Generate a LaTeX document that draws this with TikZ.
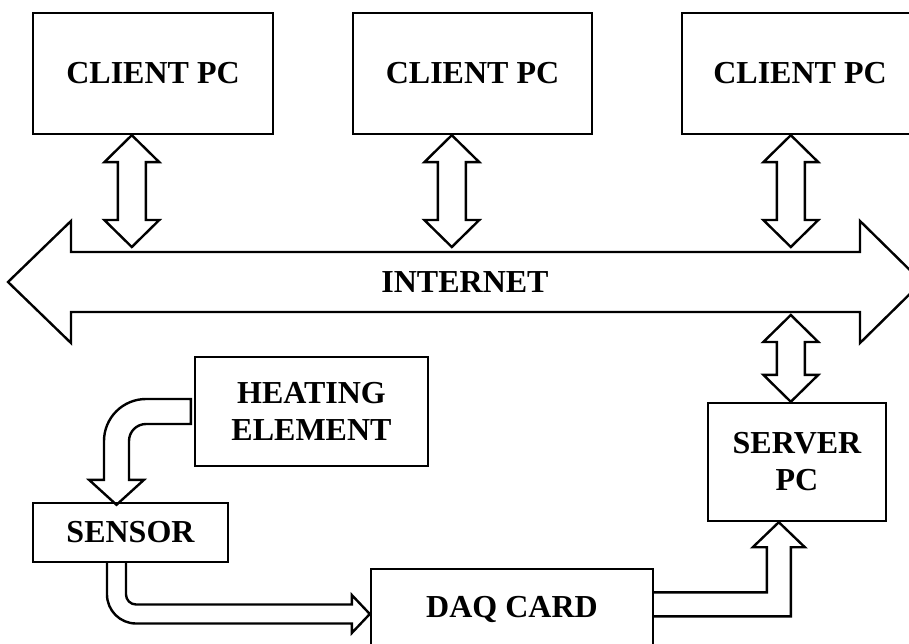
\documentclass[tikz,border=0pt]{standalone}
\usepackage{fontspec}
\setmainfont{Liberation Serif}
\usetikzlibrary{calc}

% vertical two-headed block arrow between an upper tip #1 and a lower tip #2
\newcommand\twowayarrow[2]{%
  \draw[blk] (#1) -- ++(27.5,27) -- ++(-13.5,0) -- ($(#2)+(14,-27)$)
    -- ++(13.5,0) -- (#2) -- ++(-27.5,-27) -- ++(13.5,0)
    -- ($(#1)+(-14,27)$) -- ++(-13.5,0) -- cycle;}

\begin{document}
\begin{tikzpicture}[x=1pt,y=-1pt,
  box/.style={draw,line width=2.4pt,inner sep=0pt,align=center,
    font=\fontsize{32}{37}\selectfont\bfseries},
  blk/.style={draw,line width=2.4pt,line join=miter},
  lbl/.style={font=\fontsize{32}{37}\selectfont\bfseries}]
\useasboundingbox (0,0) rectangle (909,644);

% blocks
\node[box,minimum width=240pt,minimum height=121pt] (c1) at (153,73.5) {CLIENT PC};
\node[box,minimum width=239pt,minimum height=121pt] (c2) at (472.5,73.5) {CLIENT PC};
\node[box,minimum width=236pt,minimum height=121pt] (c3) at (800,73.5) {CLIENT PC};
\node[box,minimum width=233pt,minimum height=109pt] (heat) at (311.5,411.5) {HEATING\\ELEMENT};
\node[box,minimum width=195pt,minimum height=59pt] (sens) at (130.5,532.5) {SENSOR};
\node[box,minimum width=178pt,minimum height=118pt] (srv) at (797,462) {SERVER\\PC};
\node[box,minimum width=282pt,minimum height=81pt] (daq) at (512,609.5) {DAQ CARD};

% internet band
\coordinate (net) at (465,282);
\draw[blk] ($(net)+(-457,0)$) -- ($(net)+(-394,-61)$) -- ($(net)+(-394,-30)$)
  -- ($(net)+(395,-30)$) -- ($(net)+(395,-61)$) -- ($(net)+(457,0)$)
  -- ($(net)+(395,61)$) -- ($(net)+(395,30)$) -- ($(net)+(-394,30)$)
  -- ($(net)+(-394,61)$) -- cycle;
\node[lbl] (inet) at (net) {INTERNET};
\coordinate (netTop) at ($(net)+(0,-35)$);
\coordinate (netBot) at ($(net)+(0,33)$);

% clients and server to the internet
\coordinate (p1) at ($(c1.south west)+(100,0)$);
\coordinate (p2) at ($(c2.south west)+(100,0)$);
\coordinate (p3) at ($(c3.south west)+(110,0)$);
\coordinate (ps) at ($(srv.north west)+(84,0)$);
\twowayarrow{p1}{p1 |- netTop}
\twowayarrow{p2}{p2 |- netTop}
\twowayarrow{p3}{p3 |- netTop}
\twowayarrow{ps |- netBot}{ps}

% heating element to sensor
\coordinate (h0) at ($(heat.west)+(-3,0)$);
\coordinate (s0) at ($(sens.north)+(-14,3)$);
\coordinate (hc) at (h0 -| s0);
\draw[blk] ($(h0)+(0,-12.5)$) -- ($(hc)+(29.5,-12.5)$)
  .. controls ($(hc)+(6.3,-12.5)$) and ($(hc)+(-12.5,6.3)$) .. ($(hc)+(-12.5,29.5)$)
  -- ($(s0)+(-12.5,-25)$) -- ($(s0)+(-27.5,-25)$) -- (s0)
  -- ($(s0)+(27.5,-25)$) -- ($(s0)+(12.5,-25)$) -- ($(hc)+(12.5,29.5)$)
  .. controls ($(hc)+(12.5,20.1)$) and ($(hc)+(20.1,12.5)$) .. ($(hc)+(29.5,12.5)$)
  -- ($(h0)+(0,12.5)$) -- cycle;

% sensor to DAQ card
\coordinate (t0) at ($(sens.south)+(-14,0)$);
\coordinate (d0) at ($(daq.west)+(0,4.5)$);
\coordinate (sc) at (t0 |- d0);
\draw[blk] ($(t0)+(-9.5,0)$) -- ($(sc)+(-9.5,-19.5)$)
  .. controls ($(sc)+(-9.5,-3.5)$) and ($(sc)+(3.5,9.5)$) .. ($(sc)+(19.5,9.5)$)
  -- ($(d0)+(-18,9.5)$) -- ($(d0)+(-18,19)$) -- (d0)
  -- ($(d0)+(-18,-19)$) -- ($(d0)+(-18,-9.5)$) -- ($(sc)+(19.5,-9.5)$)
  .. controls ($(sc)+(14,-9.5)$) and ($(sc)+(9.5,-14)$) .. ($(sc)+(9.5,-19.5)$)
  -- ($(t0)+(9.5,0)$);

% DAQ card to server
\coordinate (e0) at ($(daq.north east)+(0,36.5)$);
\coordinate (u0) at ($(srv.south west)+(72,0)$);
\coordinate (dc) at (u0 |- e0);
\draw[blk] ($(e0)+(0,-12)$) -- ($(dc)+(-12,-12)$) -- ($(u0)+(-12,25)$)
  -- ($(u0)+(-26,25)$) -- (u0) -- ($(u0)+(26,25)$) -- ($(u0)+(12,25)$)
  -- ($(dc)+(12,12)$) -- ($(e0)+(0,12)$);
\end{tikzpicture}
\end{document}
